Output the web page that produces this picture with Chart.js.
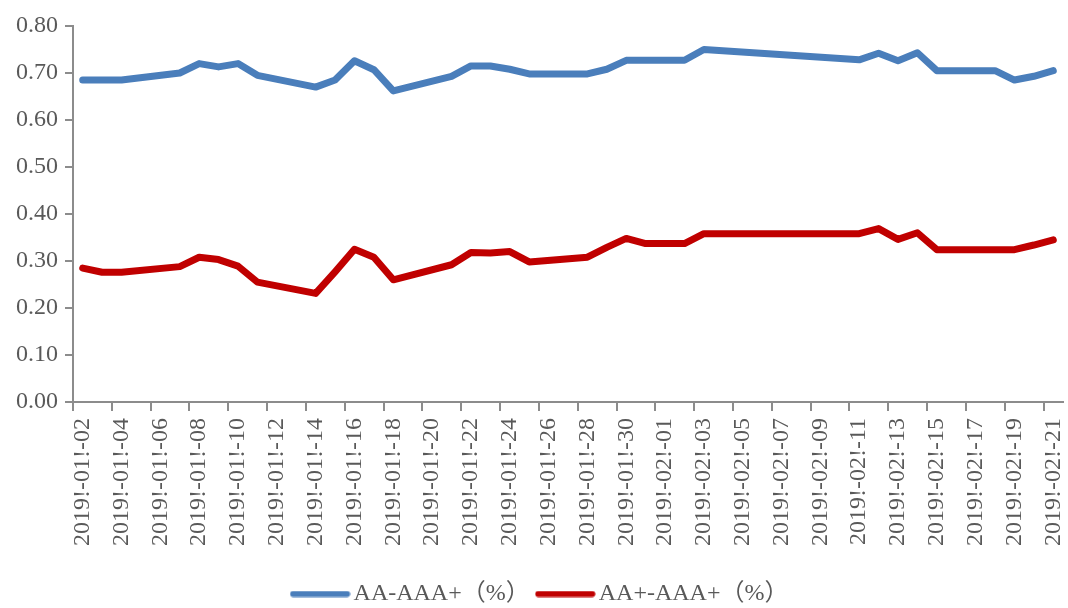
<!DOCTYPE html>
<html>
<head>
<meta charset="utf-8">
<script src="https://cdn.jsdelivr.net/npm/chart.js@4.4.0/dist/chart.umd.min.js"></script>
<style>
  html, body { margin: 0; padding: 0; background: #fff; }
</style>
</head>
<body>
<canvas id="spread" width="1068" height="608"></canvas>
<script>
// every calendar day on the axis
const days = [
  '2019!-01!-02', '2019!-01!-03', '2019!-01!-04', '2019!-01!-05', '2019!-01!-06',
  '2019!-01!-07', '2019!-01!-08', '2019!-01!-09', '2019!-01!-10', '2019!-01!-11',
  '2019!-01!-12', '2019!-01!-13', '2019!-01!-14', '2019!-01!-15', '2019!-01!-16',
  '2019!-01!-17', '2019!-01!-18', '2019!-01!-19', '2019!-01!-20', '2019!-01!-21',
  '2019!-01!-22', '2019!-01!-23', '2019!-01!-24', '2019!-01!-25', '2019!-01!-26',
  '2019!-01!-27', '2019!-01!-28', '2019!-01!-29', '2019!-01!-30', '2019!-01!-31',
  '2019!-02!-01', '2019!-02!-02', '2019!-02!-03', '2019!-02!-04', '2019!-02!-05',
  '2019!-02!-06', '2019!-02!-07', '2019!-02!-08', '2019!-02!-09', '2019!-02!-10',
  '2019!-02!-11', '2019!-02!-12', '2019!-02!-13', '2019!-02!-14', '2019!-02!-15',
  '2019!-02!-16', '2019!-02!-17', '2019!-02!-18', '2019!-02!-19', '2019!-02!-20',
  '2019!-02!-21'
];

// trading days that carry a quote
const tradeDays = [
  '2019!-01!-02', '2019!-01!-03', '2019!-01!-04', '2019!-01!-07', '2019!-01!-08',
  '2019!-01!-09', '2019!-01!-10', '2019!-01!-11', '2019!-01!-14', '2019!-01!-15',
  '2019!-01!-16', '2019!-01!-17', '2019!-01!-18', '2019!-01!-21', '2019!-01!-22',
  '2019!-01!-23', '2019!-01!-24', '2019!-01!-25', '2019!-01!-28', '2019!-01!-29',
  '2019!-01!-30', '2019!-01!-31', '2019!-02!-01', '2019!-02!-02', '2019!-02!-03',
  '2019!-02!-11', '2019!-02!-12', '2019!-02!-13', '2019!-02!-14', '2019!-02!-15',
  '2019!-02!-18', '2019!-02!-19', '2019!-02!-20', '2019!-02!-21'
];

const aaSpread = [
  0.685, 0.685, 0.685, 0.700, 0.720, 0.713, 0.720, 0.695, 0.670, 0.685,
  0.726, 0.707, 0.662, 0.693, 0.715, 0.715, 0.708, 0.698, 0.698, 0.708,
  0.727, 0.727, 0.727, 0.727, 0.750, 0.728, 0.742, 0.726, 0.743, 0.705,
  0.705, 0.685, 0.693, 0.705
];

const aaPlusSpread = [
  0.285, 0.276, 0.276, 0.288, 0.308, 0.303, 0.289, 0.255, 0.231, 0.277,
  0.325, 0.308, 0.260, 0.292, 0.318, 0.317, 0.320, 0.298, 0.308, 0.329,
  0.348, 0.337, 0.337, 0.337, 0.358, 0.358, 0.369, 0.346, 0.360, 0.324,
  0.324, 0.324, 0.334, 0.345
];

const seriesNames = ['AA-AAA+（%）', 'AA+-AAA+（%）'];
const seriesColors = ['#4a7ebb', '#c00000'];

const axisGray = '#8c8c8c';
const textGray = '#595959';
const fontFamily = "'Liberation Serif', 'Noto Sans CJK SC', serif";
const fontSize = 24;

const toPoints = values => tradeDays.map((d, i) => ({ x: d, y: values[i] }));

// short rounded bar used as the legend swatch
function swatch(color) {
  const c = document.createElement('canvas');
  c.width = 61;
  c.height = 7;
  const g = c.getContext('2d');
  g.strokeStyle = color;
  g.lineWidth = 6;
  g.lineCap = 'round';
  g.beginPath();
  g.moveTo(3.5, 3.5);
  g.lineTo(57.5, 3.5);
  g.stroke();
  return c;
}

// nudge the legend row a little to the right of the page centre
const legendNudge = {
  id: 'legendNudge',
  afterLayout(chart) {
    chart.legend.left += 12;
    chart.legend.right += 12;
  },
};

const lineStyle = {
  borderWidth: 7,
  borderJoinStyle: 'round',
  borderCapStyle: 'round',
  pointRadius: 0,
  tension: 0,
};

new Chart(document.getElementById('spread'), {
  type: 'line',
  data: {
    labels: days,
    datasets: [
      {
        label: seriesNames[0],
        data: toPoints(aaSpread),
        borderColor: seriesColors[0],
        backgroundColor: seriesColors[0],
        ...lineStyle,
      },
      {
        label: seriesNames[1],
        data: toPoints(aaPlusSpread),
        borderColor: seriesColors[1],
        backgroundColor: seriesColors[1],
        ...lineStyle,
      },
    ],
  },
  plugins: [legendNudge],
  options: {
    responsive: false,
    animation: false,
    devicePixelRatio: 1,
    layout: { padding: { top: 26, right: 5, bottom: -8, left: 0 } },
    plugins: {
      tooltip: { enabled: false },
      legend: {
        position: 'bottom',
        labels: {
          color: textGray,
          font: { family: fontFamily, size: fontSize },
          usePointStyle: true,
          pointStyleWidth: 43,
          boxHeight: 7,
          padding: 14,
          generateLabels: chart => chart.data.datasets.map((ds, i) => ({
            text: ds.label,
            pointStyle: swatch(ds.borderColor),
            fillStyle: ds.borderColor,
            strokeStyle: ds.borderColor,
            lineWidth: 0,
            fontColor: textGray,
            datasetIndex: i,
          })),
        },
      },
    },
    scales: {
      x: {
        type: 'category',
        offset: true,
        border: { color: axisGray, width: 2 },
        grid: {
          offset: true,
          drawOnChartArea: false,
          tickLength: 9,
          lineWidth: 2,
          tickColor: ctx => (ctx.index % 2 === 0 ? axisGray : 'rgba(0,0,0,0)'),
        },
        ticks: {
          autoSkip: false,
          minRotation: 90,
          maxRotation: 90,
          padding: 7,
          color: textGray,
          font: { family: fontFamily, size: fontSize },
          callback: function (value, index) {
            return index % 2 === 0 ? this.getLabelForValue(value) : '';
          },
        },
        afterFit: scale => {
          scale.height = 166;
          scale.paddingLeft = 0;
          scale.paddingRight = 0;
        },
      },
      y: {
        min: 0,
        max: 0.8,
        border: { color: axisGray, width: 2 },
        grid: {
          drawOnChartArea: false,
          tickLength: 8,
          lineWidth: 2,
          color: axisGray,
        },
        ticks: {
          stepSize: 0.1,
          padding: 7,
          color: textGray,
          font: { family: fontFamily, size: fontSize },
          callback: v => v.toFixed(2),
        },
        afterFit: scale => { scale.width = 73; },
      },
    },
  },
});
</script>
</body>
</html>
